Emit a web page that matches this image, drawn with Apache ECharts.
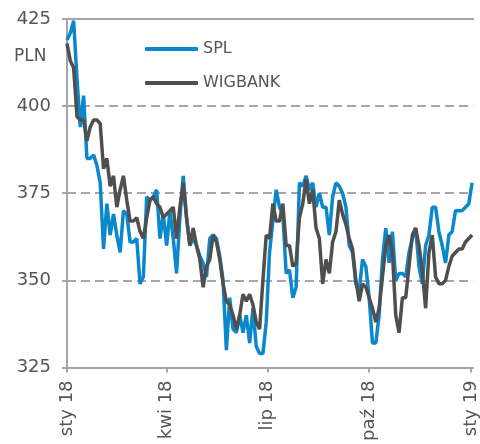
<!DOCTYPE html>
<html>
<head>
<meta charset="utf-8">
<script src="https://cdn.jsdelivr.net/npm/echarts@6/dist/echarts.min.js"></script>
<style>
  html, body { margin: 0; padding: 0; background: #fff; }
  #chart { width: 480px; height: 444px; }
</style>
</head>
<body>
<div id="chart"></div>
<script>
// dni od 1 stycznia 2018 (co 3 dni)
var days = [];
for (var d = 0; d <= 366; d += 3) days.push(d);

var tickDays = [0, 90, 181, 273, 365];
var tickLabels = ['sty 18', 'kwi 18', 'lip 18', 'paź 18', 'sty 19'];
var yTicks = [325, 350, 375, 400, 425];

var splValues = [
  419, 421, 424.5, 408, 394, 403, 385, 385, 386, 383,
  378, 359, 372, 363, 369, 363, 358, 370, 369, 361,
  361, 362, 349, 351, 374, 373, 374, 376, 362, 369,
  360, 370, 362, 352, 368, 380, 368, 360, 362, 360,
  357, 355, 351, 362, 363, 362, 357, 350, 330, 345,
  336, 335, 340, 335, 340, 332, 342, 331, 329, 329,
  338, 358, 367, 376, 371, 369, 352, 353, 345, 348,
  378, 377, 380, 376, 378, 371, 375, 371, 371, 363,
  374, 378, 377, 375, 371, 360, 358, 349, 347, 356,
  354, 345, 332, 332, 340, 356, 365, 355, 364, 350,
  352, 352, 351, 358, 362, 365, 354, 349, 360, 363,
  371, 371, 364, 360, 355, 363, 364, 370, 370, 370,
  371, 372, 378
];

var wigValues = [
  418, 413, 411, 397, 396, 396, 390, 394, 396, 396,
  395, 382, 385, 377, 380, 371, 376, 380, 373, 367,
  367, 368, 364, 362, 368, 373, 374, 372, 371, 368,
  369, 370, 371, 362, 371, 378, 368, 360, 365, 360,
  356, 348, 354, 356, 363, 361, 356, 349, 344, 343,
  340, 336, 340, 346, 344, 346, 343, 338, 336, 350,
  363, 362, 372, 367, 367, 372, 360, 360, 354, 355,
  368, 372, 379, 372, 376, 365, 362, 349, 356, 352,
  361, 364, 373, 369, 366, 362, 359, 350, 344, 349,
  348, 345, 342, 338, 342, 351, 360, 363, 358, 340,
  335, 345, 345, 354, 363, 365, 360, 353, 342, 358,
  363, 351, 349, 349, 350, 354, 357, 358, 359, 359,
  361, 362, 363
];

var font = 'DejaVu Sans, Verdana, sans-serif';
var axisGrey = '#a6a6a6';
var textGrey = '#555555';

function pairs(vals) {
  return vals.map(function (v, i) { return [days[i], v]; });
}

var myChart = echarts.init(document.getElementById('chart'));
var option = {
  animation: false,
  backgroundColor: '#fff',
  textStyle: { fontFamily: font },
  grid: { left: 67, right: 0, top: 19, bottom: 73 },
  legend: {
    orient: 'vertical',
    left: 140,
    top: 36,
    itemWidth: 53,
    itemHeight: 4,
    itemGap: 18,
    icon: 'roundRect',
    textStyle: { fontFamily: font, fontSize: 16, color: textGrey },
    data: ['SPL', 'WIGBANK']
  },
  graphic: [{
    type: 'text',
    left: 14,
    top: 48,
    style: { text: 'PLN', font: '17px ' + font, fill: textGrey }
  }],
  xAxis: [{
    type: 'value',
    min: 0,
    max: 367,
    position: 'bottom',
    splitLine: { show: false },
    axisLine: { lineStyle: { color: axisGrey, width: 2 } },
    axisTick: { show: true, customValues: tickDays, length: 5, lineStyle: { color: axisGrey, width: 2 } },
    axisLabel: {
      customValues: tickDays,
      rotate: 90,
      margin: 13,
      fontFamily: font,
      fontSize: 18,
      color: textGrey,
      formatter: function (v) { return tickLabels[tickDays.indexOf(v)]; }
    }
  }, {
    type: 'value',
    min: 0,
    max: 367,
    position: 'top',
    splitLine: { show: false },
    axisLine: { lineStyle: { color: axisGrey, width: 2 } },
    axisTick: { show: false },
    axisLabel: { show: false }
  }],
  yAxis: {
    type: 'value',
    min: yTicks[0],
    max: yTicks[yTicks.length - 1],
    interval: 25,
    axisLine: { show: true, lineStyle: { color: axisGrey, width: 2 } },
    axisTick: { show: true, length: 5, lineStyle: { color: axisGrey, width: 2 } },
    axisLabel: { margin: 16, fontFamily: font, fontSize: 18, color: textGrey },
    splitLine: { lineStyle: { color: axisGrey, width: 2, type: [9, 5] } }
  },
  series: [{
    name: 'SPL',
    type: 'line',
    data: pairs(splValues),
    showSymbol: false,
    color: '#0b87cc',
    lineStyle: { width: 3.5, color: '#0b87cc' }
  }, {
    name: 'WIGBANK',
    type: 'line',
    data: pairs(wigValues),
    showSymbol: false,
    color: '#4f4f4f',
    lineStyle: { width: 3.5, color: '#4f4f4f' }
  }]
};
myChart.setOption(option);
</script>
</body>
</html>
